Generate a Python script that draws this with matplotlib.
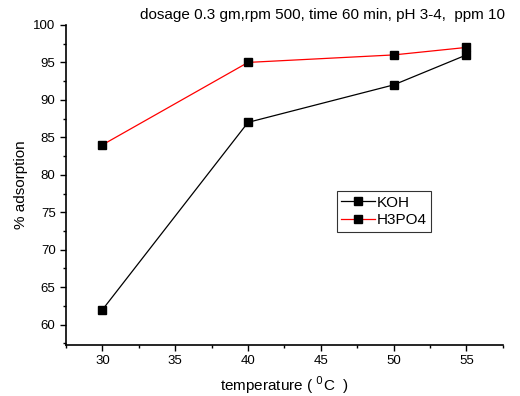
import matplotlib
matplotlib.use("Agg")
import matplotlib.pyplot as plt
from matplotlib.ticker import MultipleLocator

plt.rcParams["font.family"] = ["Liberation Sans", "DejaVu Sans"]

# ── Data ──────────────────────────────────────────────────────────────────────
temperature = [30, 40, 50, 55]
koh = [62, 87, 92, 96]
h3po4 = [84, 95, 96, 97]

fig = plt.figure(figsize=(5.2, 3.96), dpi=100)
ax = fig.add_axes([0.127, 0.129, 0.840, 0.808])

ax.plot(temperature, koh, color="black", lw=0.9, marker="s", ms=6,
        mfc="black", mec="black", label="KOH")
ax.plot(temperature, h3po4, color="red", lw=0.9, marker="s", ms=6,
        mfc="black", mec="black", label="H3PO4")

ax.set_xlim(27.5, 57.5)
ax.set_ylim(57.3, 100)
ax.xaxis.set_major_locator(MultipleLocator(5))
ax.xaxis.set_minor_locator(MultipleLocator(2.5))
ax.yaxis.set_major_locator(MultipleLocator(5))
ax.yaxis.set_minor_locator(MultipleLocator(2.5))
ax.tick_params(which="major", direction="out", length=4, width=1, labelsize=9.5)
ax.tick_params(which="minor", direction="out", length=2.5, width=1)

for s in ["top", "right"]:
    ax.spines[s].set_visible(False)
for s in ["left", "bottom"]:
    ax.spines[s].set_linewidth(1.2)

ax.set_xlabel("temperature ( $^{0}$C  )", fontsize=11, labelpad=5)
ax.set_ylabel("% adsorption", fontsize=11)

fig.text(0.269, 0.945, "dosage 0.3 gm,rpm 500, time 60 min, pH 3-4,  ppm 10",
         fontsize=11, ha="left", va="bottom")

leg = ax.legend(loc="upper left", bbox_to_anchor=(0.62, 0.481), fontsize=11,
                frameon=True, fancybox=False, edgecolor="black",
                handlelength=2.2, handletextpad=0.1, borderpad=0.3,
                labelspacing=0.25, borderaxespad=0)
leg.get_frame().set_linewidth(0.8)

fig.savefig("out.png", dpi=100)
